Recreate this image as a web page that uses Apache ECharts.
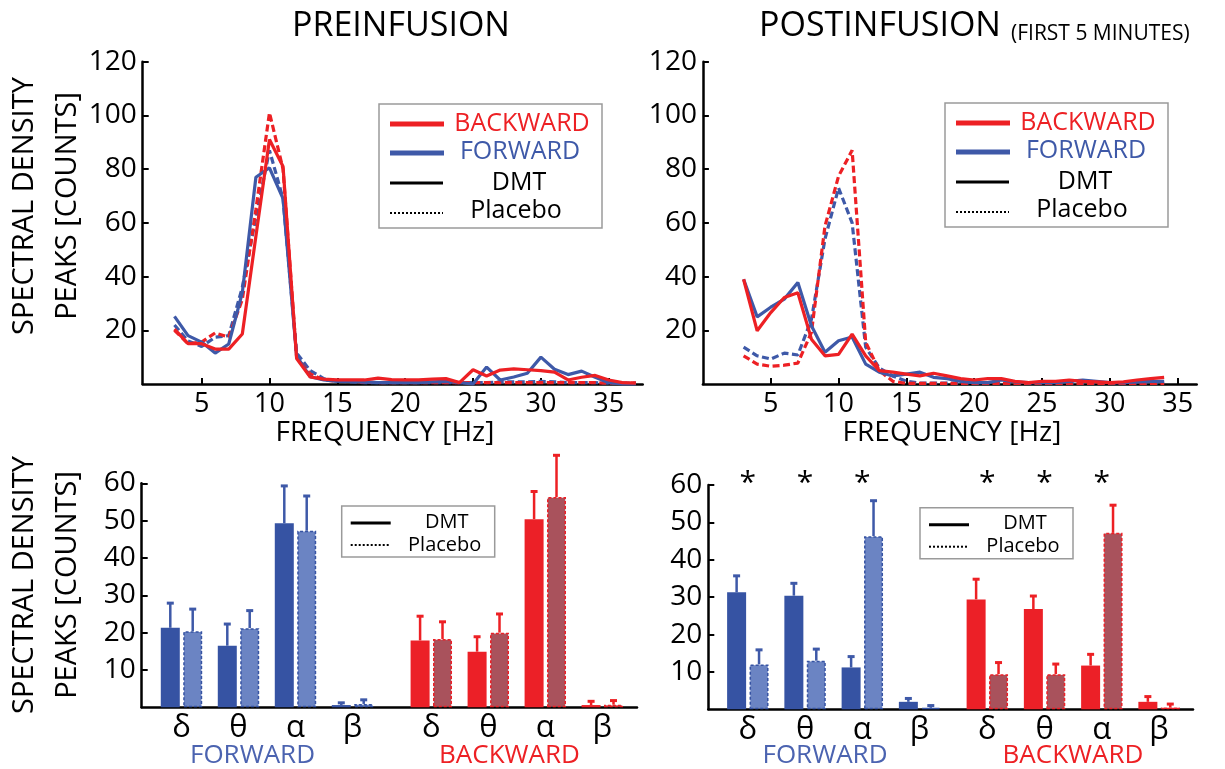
<!DOCTYPE html>
<html>
<head>
<meta charset="utf-8">
<script src="https://cdn.jsdelivr.net/npm/echarts@6/dist/echarts.min.js"></script>
<style>
html,body{margin:0;padding:0;background:#fff;}
#chart{width:1225px;height:769px;}
</style>
</head>
<body>
<div id="chart"></div>
<script>
// ---------------- DATA ----------------
const freqPre  = [3,4,5,6,7,8,9,10,11,12,13,14,15,16,17,18,19,20,21,22,23,24,25,26,27,28,29,30,31,32,33,34,35,36,37];
const backPreDMT = [20.4,15,15,13,13,18.6,55,91,81,9.5,2.6,1.8,1.5,1.5,1.5,2.2,1.6,1.5,1.5,1.8,2,0.5,5.3,3,5.2,5.6,5.3,5,4.4,1.5,2.5,3.2,1.5,0.5,0.3];
const fwdPreDMT  = [25.2,18,15.6,11.5,14.9,34,77,80.5,69,10.5,2.7,1.5,1,1,0.8,0.5,0.5,0.5,0.5,0.8,1,0.5,0,6.3,1.5,2.6,4,10,5.5,3.5,4.8,2.5,0.5,0,0];
const backPrePla = [20,15,15.6,19,17.5,31.5,65,101,80,10,3.7,1.5,1,1,0.8,0.5,0.5,0.5,0.5,0.5,0.5,0.5,0.5,0.5,0.5,0.5,0.5,0.5,0.5,0.5,0.5,0.5,0.3,0.3,0.3];
const fwdPrePla  = [22,16,14,17.4,18,36,62,87,69,11.5,5,2,1,0.8,0.5,0.5,0.5,0.5,0.5,0.5,0.5,0.5,0.5,0.5,0.8,0.8,0.8,1,0.8,0.5,0.5,0.5,0.3,0.3,0.3];

const freqPost = [3,4,5,6,7,8,9,10,11,12,13,14,15,16,17,18,19,20,21,22,23,24,25,26,27,28,29,30,31,32,33,34];
const backPostDMT = [39,19.8,26.6,32.2,34,16.7,10.5,11,18.6,10.5,5,4.4,3.7,3,4,3,2,1.5,2,2,1,0.5,1,1,1.5,1,0.8,0.5,0.8,1.5,2,2.5];
const fwdPostDMT  = [39,25,28.6,31.6,37.8,21.7,11.8,16.1,17.5,7.4,4.4,3,3.7,4.4,2.5,2,1,0.5,0.5,1.5,0.8,0.5,0.5,0.5,1,1.5,1,0.5,0.5,0.8,1,1];
const backPostPla = [10.5,7.4,6.6,7,7.8,19.2,58.8,77.4,87,15.6,5,1,0.2,0.2,0.2,0.2,0.2,0.2,0.2,0.2,0.2,0.2,0.2,0.2,0.2,0.2,0.2,0.2,0.2,0.2,0.2,0.2];
const fwdPostPla  = [13.7,10.5,9.3,11.5,10.8,24,54,73,60,13.7,6,3,1,0.3,0.3,0.3,0.3,0.3,0.3,0.3,0.3,0.3,0.3,0.3,0.3,0.3,0.3,0.3,0.3,0.3,0.3,0.3];

const freqTicks = [5,10,15,20,25,30,35];

const bandCats = ['δ','θ','α','β'];
// preinfusion bars (mean, error)
const preFwdDMT = [21.3,16.5,49.3,0.6],  preFwdDMTErr = [6.6,5.8,10.0,0.6];
const preFwdPla = [20.4,21.2,47.3,0.9],  preFwdPlaErr = [5.9,4.7,9.3,1.1];
const preBwdDMT = [17.9,14.9,50.4,0.6],  preBwdDMTErr = [6.5,4.0,7.4,1.0];
const preBwdPla = [18.3,20.0,56.3,0.7],  preBwdPlaErr = [4.6,5.0,11.2,1.1];
// postinfusion bars
const postFwdDMT = [31.3,30.4,11.2,2.0], postFwdDMTErr = [4.4,3.3,2.9,0.9];
const postFwdPla = [12.0,13.0,46.3,0.4], postFwdPlaErr = [3.9,3.1,9.5,0.6];
const postBwdDMT = [29.4,26.8,11.7,2.0], postBwdDMTErr = [5.4,3.5,3.0,1.4];
const postBwdPla = [9.4,9.4,47.2,0.5],   postBwdPlaErr = [3.1,2.7,7.4,0.9];
const postFwdSig = ['*','*','*',''];
const postBwdSig = ['*','*','*',''];

// ---------------- STYLE ----------------
const RED = '#ed2024', BLUE = '#3e59a8';
const FWD_DMT = '#3653a3', FWD_PLA = '#6b84c3';
const BWD_DMT = '#ec2027', BWD_PLA = '#a9525c';
const FONT = '"Open Sans", "Noto Sans", sans-serif';
const BW = 19, BGAP = 0.18;
const OFF = BW * (1 + BGAP) / 2;

const chart = echarts.init(document.getElementById('chart'), null, {renderer: 'canvas'});

const axisLine = {show: true, lineStyle: {color: '#000', width: 2.5}};
const pairs = (xs, ys) => xs.map((x, i) => [x, ys[i]]);

function lineSeries(xi, xs, ys, color, dashed) {
  return {
    type: 'line', xAxisIndex: xi, yAxisIndex: xi, data: pairs(xs, ys),
    showSymbol: false, symbol: 'none', clip: false,
    lineStyle: {color: color, width: 3.2, type: dashed ? [7, 3.5] : 'solid'},
    z: dashed ? 2 : 3
  };
}
function barSeries(xi, vals, color, dashedBorder) {
  return {
    type: 'bar', xAxisIndex: xi, yAxisIndex: xi, data: vals,
    barWidth: BW, barGap: (BGAP * 100) + '%',
    itemStyle: dashedBorder
      ? {color: color, borderColor: dashedBorder, borderWidth: 1.5, borderType: [3, 2]}
      : {color: color},
    z: 2
  };
}
function errSeries(xi, vals, errs, offset, color) {
  return {
    type: 'custom', xAxisIndex: xi, yAxisIndex: xi, clip: false, z: 1,
    data: vals.map((v, i) => [i, v, errs[i]]),
    encode: {x: 0, y: [1, 2]},
    renderItem: function (params, api) {
      const base = api.coord([api.value(0), api.value(1)]);
      const top = api.coord([api.value(0), api.value(1) + api.value(2)]);
      const x = base[0] + offset;
      return {type: 'group', children: [
        {type: 'line', shape: {x1: x, y1: base[1], x2: x, y2: top[1]}, style: {stroke: color, lineWidth: 2.5}},
        {type: 'line', shape: {x1: x - 3.5, y1: top[1], x2: x + 3.5, y2: top[1]}, style: {stroke: color, lineWidth: 3}}
      ]};
    }
  };
}

const grids = [
  {left: 142.7, top: 61.7, width: 500, height: 322.3},   // 0 top-left
  {left: 702.9, top: 61.7, width: 493.8, height: 322.3}, // 1 top-right
  {left: 141.7, top: 483.3, width: 495.3, height: 224},  // 2 BL frame
  {left: 153,   top: 483.3, width: 228, height: 224},    // 3 BL forward
  {left: 402.8, top: 483.3, width: 228, height: 224},    // 4 BL backward
  {left: 708.3, top: 485, width: 484.7, height: 224.3},  // 5 BR frame
  {left: 719.2, top: 485, width: 229, height: 224.3},    // 6 BR forward
  {left: 958.7, top: 485, width: 229, height: 224.3}     // 7 BR backward
];

const freqAxis = (gi, min, max) => ({
  type: 'value', gridIndex: gi, min: min, max: max,
  axisLine: axisLine, splitLine: {show: false},
  axisTick: {show: true, inside: true, length: 6, lineStyle: {color: '#000', width: 2}, customValues: freqTicks},
  axisLabel: {show: true, color: '#000', fontSize: 27, fontFamily: FONT, margin: 7, customValues: freqTicks}
});
const frameX = gi => ({type: 'value', gridIndex: gi, min: 0, max: 1, axisLine: axisLine,
  axisTick: {show: false}, axisLabel: {show: false}, splitLine: {show: false}});
const catAxis = gi => ({type: 'category', gridIndex: gi, data: bandCats,
  axisLine: {show: false}, axisTick: {show: false}, splitLine: {show: false},
  axisLabel: {color: '#000', fontSize: 31, fontFamily: FONT, margin: 5}});
const sigAxis = (gi, sig) => ({type: 'category', gridIndex: gi, position: 'top', data: sig,
  axisLine: {show: false}, axisTick: {show: false}, splitLine: {show: false},
  axisLabel: {color: '#000', fontSize: 30, fontFamily: FONT, margin: -13}});
const valY = (gi, max, interval, fontSize) => ({
  type: 'value', gridIndex: gi, min: 0, max: max, interval: interval,
  axisLine: axisLine, splitLine: {show: false},
  axisTick: {show: true, inside: true, length: 6, lineStyle: {color: '#000', width: 2}},
  axisLabel: {color: '#000', fontSize: fontSize, fontFamily: FONT, margin: 6, showMinLabel: false}
});
const hiddenY = (gi, max) => ({type: 'value', gridIndex: gi, min: 0, max: max, show: false, splitLine: {show: false}});

// ---------------- GRAPHIC (titles, names, legends) ----------------
function txt(x, y, text, size, color, align, extra) {
  const el = {
    type: 'text', x: x, y: y, z: 100,
    style: {text: text, fill: color || '#000', fontSize: size, fontFamily: FONT,
      align: align || 'center', verticalAlign: 'middle', textAlign: align || 'center', textVerticalAlign: 'middle'}
  };
  if (extra) Object.assign(el.style, extra);
  return el;
}
function ln(x1, y1, x2, y2, color, w, dash) {
  return {type: 'line', z: 100, shape: {x1: x1, y1: y1, x2: x2, y2: y2},
    style: {stroke: color, lineWidth: w, lineDash: dash || null}};
}
function bigLegend(L, T) {
  return [
    {type: 'rect', z: 99, shape: {x: L, y: T, width: 223, height: 124}, style: {fill: '#fff', stroke: '#9a9a9a', lineWidth: 1.5}},
    ln(L + 11, T + 20, L + 65, T + 20, RED, 5),
    txt(L + 143, T + 20, 'BACKWARD', 25, RED),
    ln(L + 11, T + 49, L + 65, T + 49, BLUE, 5),
    txt(L + 141, T + 48, 'FORWARD', 25, BLUE),
    ln(L + 11, T + 79, L + 64, T + 79, '#000', 3),
    txt(L + 140, T + 79, 'DMT', 25, '#000'),
    ln(L + 11, T + 109, L + 64, T + 109, '#000', 2, [2, 2]),
    txt(L + 137, T + 107, 'Placebo', 25, '#000')
  ];
}
function smallLegend(L, T) {
  return [
    {type: 'rect', z: 99, shape: {x: L, y: T, width: 153, height: 51}, style: {fill: '#fff', stroke: '#9a9a9a', lineWidth: 1.5}},
    ln(L + 9, T + 17, L + 49, T + 17, '#000', 3),
    txt(L + 105, T + 16, 'DMT', 20, '#000'),
    ln(L + 9, T + 39, L + 49, T + 39, '#000', 2, [2, 2]),
    txt(L + 103, T + 39, 'Placebo', 20, '#000')
  ];
}
const yName = 'SPECTRAL DENSITY\nPEAKS [COUNTS]';
const graphics = [
  txt(401, 26, 'PREINFUSION', 34, '#000'),
  txt(880, 26, 'POSTINFUSION', 34, '#000'),
  txt(1011, 34, '(FIRST 5 MINUTES)', 21, '#000', 'left'),
  txt(385, 433, 'FREQUENCY [Hz]', 28, '#000'),
  txt(952, 433, 'FREQUENCY [Hz]', 28, '#000'),
  Object.assign(txt(46, 206, yName, 29, '#000', 'center', {lineHeight: 43}), {rotation: Math.PI / 2}),
  Object.assign(txt(46, 585, yName, 29, '#000', 'center', {lineHeight: 43}), {rotation: Math.PI / 2}),
  txt(252.5, 756, 'FORWARD', 26, '#4b63b0'),
  txt(509.5, 756, 'BACKWARD', 26, RED),
  txt(825, 756, 'FORWARD', 26, '#4b63b0'),
  txt(1073, 756, 'BACKWARD', 26, RED)
].concat(bigLegend(379, 104), bigLegend(945, 103), smallLegend(341.7, 506), smallLegend(920, 507.7));

const option = {
  backgroundColor: '#fff',
  animation: false,
  grid: grids,
  xAxis: [
    freqAxis(0, 0.66, 37.5),
    freqAxis(1, 0, 36.4),
    frameX(2), catAxis(3), catAxis(4),
    frameX(5), catAxis(6), catAxis(7),
    sigAxis(6, postFwdSig), sigAxis(7, postBwdSig)
  ],
  yAxis: [
    valY(0, 120, 20, 28), valY(1, 120, 20, 28),
    valY(2, 60, 10, 28), hiddenY(3, 60), hiddenY(4, 60),
    valY(5, 60, 10, 28), hiddenY(6, 60), hiddenY(7, 60)
  ],
  series: [
    lineSeries(0, freqPre, fwdPrePla, BLUE, true),
    lineSeries(0, freqPre, backPrePla, RED, true),
    lineSeries(0, freqPre, fwdPreDMT, BLUE, false),
    lineSeries(0, freqPre, backPreDMT, RED, false),
    lineSeries(1, freqPost, fwdPostPla, BLUE, true),
    lineSeries(1, freqPost, backPostPla, RED, true),
    lineSeries(1, freqPost, fwdPostDMT, BLUE, false),
    lineSeries(1, freqPost, backPostDMT, RED, false),

    barSeries(3, preFwdDMT, FWD_DMT), barSeries(3, preFwdPla, FWD_PLA, FWD_DMT),
    errSeries(3, preFwdDMT, preFwdDMTErr, -OFF, BLUE), errSeries(3, preFwdPla, preFwdPlaErr, OFF, BLUE),
    barSeries(4, preBwdDMT, BWD_DMT), barSeries(4, preBwdPla, BWD_PLA, BWD_DMT),
    errSeries(4, preBwdDMT, preBwdDMTErr, -OFF, RED), errSeries(4, preBwdPla, preBwdPlaErr, OFF, RED),

    barSeries(6, postFwdDMT, FWD_DMT), barSeries(6, postFwdPla, FWD_PLA, FWD_DMT),
    errSeries(6, postFwdDMT, postFwdDMTErr, -OFF, BLUE), errSeries(6, postFwdPla, postFwdPlaErr, OFF, BLUE),
    barSeries(7, postBwdDMT, BWD_DMT), barSeries(7, postBwdPla, BWD_PLA, BWD_DMT),
    errSeries(7, postBwdDMT, postBwdDMTErr, -OFF, RED), errSeries(7, postBwdPla, postBwdPlaErr, OFF, RED)
  ],
  graphic: graphics
};
chart.setOption(option);
</script>
</body>
</html>
